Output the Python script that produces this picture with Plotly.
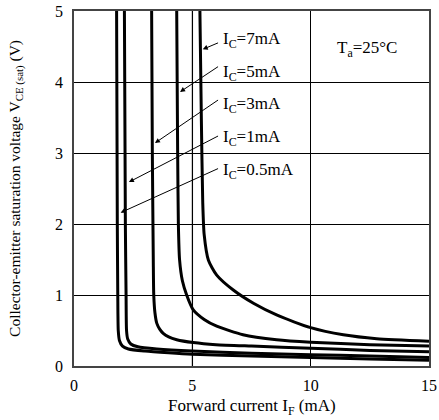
import plotly.graph_objects as go

# Forward current I_F (mA) vs collector-emitter saturation voltage (V)
if_05 = [1.80, 1.83, 1.85, 1.87, 1.92, 2.05, 2.3, 3.0, 4.0, 5.0, 7.5, 10, 12.5, 15]
v_05 = [5.0, 2.0, 1.0, 0.5, 0.36, 0.28, 0.24, 0.21, 0.185, 0.165, 0.14, 0.12, 0.10, 0.08]

if_1 = [2.13, 2.17, 2.20, 2.22, 2.27, 2.4, 2.7, 3.5, 5, 7.5, 10, 12.5, 15]
v_1 = [5.0, 2.0, 1.0, 0.5, 0.38, 0.31, 0.27, 0.24, 0.21, 0.18, 0.16, 0.14, 0.12]

if_3 = [3.28, 3.31, 3.35, 3.37, 3.42, 3.5, 3.62, 3.77, 4.0, 4.34, 5.04, 6, 7.5, 10, 12.5, 15]
v_3 = [5.0, 3.0, 1.5, 1.0, 0.75, 0.6, 0.52, 0.46, 0.41, 0.37, 0.33, 0.30, 0.28, 0.25, 0.22, 0.20]

if_5 = [4.34, 4.38, 4.41, 4.46, 4.58, 4.76, 5.04, 5.5, 6.03, 7.14, 8.56, 10, 12.5, 15]
v_5 = [5.0, 3.0, 2.0, 1.5, 1.2, 1.0, 0.79, 0.655, 0.56, 0.44, 0.37, 0.335, 0.30, 0.28]

if_7 = [5.32, 5.38, 5.44, 5.5, 5.68, 6.03, 6.73, 7.6, 8.56, 10.0, 11.38, 12.79, 15]
v_7 = [5.0, 3.5, 2.3, 1.85, 1.49, 1.28, 1.07, 0.88, 0.72, 0.54, 0.44, 0.385, 0.35]

curves = [(if_05, v_05), (if_1, v_1), (if_3, v_3), (if_5, v_5), (if_7, v_7)]

label_texts = ["I<sub>C</sub>=7mA", "I<sub>C</sub>=5mA", "I<sub>C</sub>=3mA",
               "I<sub>C</sub>=1mA", "I<sub>C</sub>=0.5mA"]
label_y = [4.59, 4.13, 3.68, 3.21, 2.74]
label_x = 6.2
arrow_tip_x = [5.44, 4.48, 3.42, 2.32, 1.97]
arrow_tip_y = [4.46, 3.86, 3.14, 2.59, 2.16]
arrow_tail_y = [4.56, 4.23, 3.76, 3.25, 2.79]

x_ticks = [0, 5, 10, 15]
y_ticks = [0, 1, 2, 3, 4, 5]

FONT = "Liberation Serif, Times New Roman, serif"

fig = go.Figure()
for xs, ys in curves:
    fig.add_trace(go.Scatter(x=xs, y=ys, mode="lines",
                             line=dict(color="black", width=3, shape="spline", smoothing=0.6),
                             showlegend=False, hoverinfo="skip"))

annotations = []
for t, ly in zip(label_texts, label_y):
    annotations.append(dict(x=label_x, y=ly, xref="x", yref="y", text=t, showarrow=False,
                            xanchor="left", yanchor="middle",
                            font=dict(family=FONT, size=17, color="black")))
for tx, ty, ay in zip(arrow_tip_x, arrow_tip_y, arrow_tail_y):
    annotations.append(dict(x=tx, y=ty, xref="x", yref="y", ax=label_x - 0.05, ay=ay,
                            axref="x", ayref="y", text="", showarrow=True,
                            arrowhead=2, arrowsize=1, arrowwidth=1, arrowcolor="black"))
annotations.append(dict(x=12.4, y=4.47, xref="x", yref="y", text="T<sub>a</sub>=25°C",
                        showarrow=False, font=dict(family=FONT, size=17, color="black")))
annotations.append(dict(x=0.5, y=-0.115, xref="paper", yref="paper",
                        text="Forward current I<sub>F</sub> (mA)", showarrow=False,
                        yanchor="middle", font=dict(family=FONT, size=17, color="black")))
annotations.append(dict(x=-0.165, y=0.5, xref="paper", yref="paper", textangle=-90,
                        text="Collector-emitter saturation voltage V<sub>CE (sat)</sub> (V)",
                        showarrow=False, xanchor="center",
                        font=dict(family=FONT, size=15.5, color="black")))

fig.update_layout(
    width=439, height=420,
    margin=dict(l=74, r=10, t=11, b=54),
    paper_bgcolor="white", plot_bgcolor="white",
    font=dict(family=FONT, size=16, color="black"),
    annotations=annotations,
    shapes=[dict(type="line", xref="x", yref="paper", x0=x_ticks[1], x1=x_ticks[1], y0=0, y1=1,
                 line=dict(color="#888888", width=1.5), layer="below")],
)
fig.update_xaxes(range=[0, 15], tickvals=x_ticks, showgrid=True, gridcolor="black", gridwidth=1,
                 showline=True, mirror=True, linecolor="#444444", linewidth=1.5,
                 zeroline=False, ticks="", ticklabelstandoff=4, fixedrange=True, automargin=False)
fig.update_yaxes(range=[0, 5], tickvals=y_ticks, showgrid=True, gridcolor="black", gridwidth=1,
                 showline=True, mirror=True, linecolor="#444444", linewidth=1.5,
                 zeroline=False, ticks="", ticklabelstandoff=6, fixedrange=True, automargin=False)

fig.write_html("out.html", config={"displayModeBar": False},
               post_script="document.body.style.margin='0';document.body.style.overflow='hidden';")
